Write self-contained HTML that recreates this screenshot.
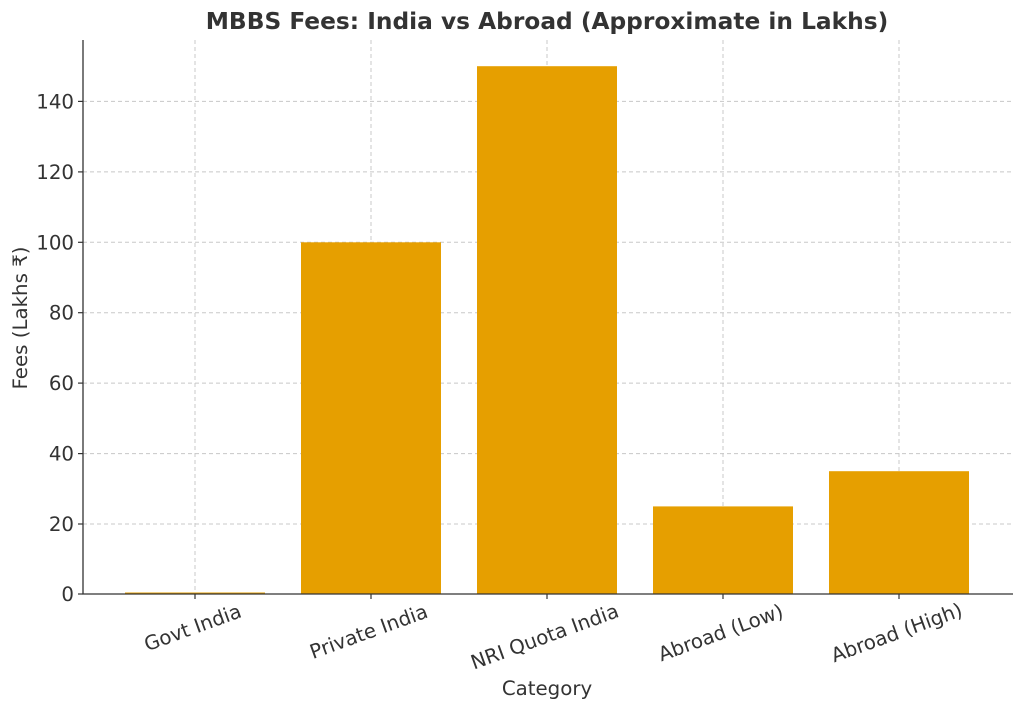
<!DOCTYPE html>
<html><head><meta charset="utf-8"><style>body{margin:0;background:#fff}</style></head><body>
<svg width="1024" height="711" xmlns="http://www.w3.org/2000/svg" font-family="DejaVu Sans, Liberation Sans, sans-serif">
<rect width="1024" height="711" fill="#fff"/>
<g stroke="#c8c8c8" stroke-width="1" stroke-dasharray="4,3">
<line x1="83" x2="1013" y1="524" y2="524"/>
<line x1="83" x2="1013" y1="453.6" y2="453.6"/>
<line x1="83" x2="1013" y1="383.1" y2="383.1"/>
<line x1="83" x2="1013" y1="312.7" y2="312.7"/>
<line x1="83" x2="1013" y1="242.3" y2="242.3"/>
<line x1="83" x2="1013" y1="171.9" y2="171.9"/>
<line x1="83" x2="1013" y1="101.4" y2="101.4"/>
<line x1="195" x2="195" y1="40" y2="594"/>
<line x1="371" x2="371" y1="40" y2="594"/>
<line x1="547" x2="547" y1="40" y2="594"/>
<line x1="723" x2="723" y1="40" y2="594"/>
<line x1="899" x2="899" y1="40" y2="594"/>
</g>
<g fill="#E69F00">
<rect x="125" y="592.5" width="140" height="1.5"/>
<rect x="301" y="242.3" width="140" height="351.7"/>
<rect x="477" y="66.2" width="140" height="527.8"/>
<rect x="653" y="506.4" width="140" height="87.6"/>
<rect x="829" y="471.2" width="140" height="122.8"/>
</g>
<g stroke="#333" stroke-width="1.3" fill="none">
<line x1="83" y1="40" x2="83" y2="594.5"/>
<line x1="82.5" y1="594" x2="1013" y2="594"/>
</g>
<g stroke="#333" stroke-width="1.2">
<line x1="78" x2="83" y1="594" y2="594"/><line x1="78" x2="83" y1="524" y2="524"/><line x1="78" x2="83" y1="453.6" y2="453.6"/><line x1="78" x2="83" y1="383.1" y2="383.1"/><line x1="78" x2="83" y1="312.7" y2="312.7"/><line x1="78" x2="83" y1="242.3" y2="242.3"/><line x1="78" x2="83" y1="171.9" y2="171.9"/><line x1="78" x2="83" y1="101.4" y2="101.4"/>
<line x1="195" x2="195" y1="594" y2="599"/><line x1="371" x2="371" y1="594" y2="599"/><line x1="547" x2="547" y1="594" y2="599"/><line x1="723" x2="723" y1="594" y2="599"/><line x1="899" x2="899" y1="594" y2="599"/>
</g>
<g fill="#333" font-size="19.8" text-anchor="end">
<text x="74" y="601">0</text><text x="74" y="531">20</text><text x="74" y="460.6">40</text><text x="74" y="390.1">60</text><text x="74" y="319.7">80</text><text x="74" y="249.3">100</text><text x="74" y="178.9">120</text><text x="74" y="108.4">140</text>
</g>
<g fill="#333" font-size="19.8" text-anchor="middle">
<text transform="translate(195,634) rotate(-20)">Govt India</text>
<text transform="translate(371,638) rotate(-20)">Private India</text>
<text transform="translate(547,643) rotate(-20)">NRI Quota India</text>
<text transform="translate(723,639) rotate(-20)">Abroad (Low)</text>
<text transform="translate(899,639) rotate(-20)">Abroad (High)</text>
<text x="547" y="695">Category</text>
<text transform="translate(27,318) rotate(-90)">Fees (Lakhs ₹)</text>
<text x="547" y="29" font-size="23.3" font-weight="bold">MBBS Fees: India vs Abroad (Approximate in Lakhs)</text>
</g>
</svg>
</body></html>
